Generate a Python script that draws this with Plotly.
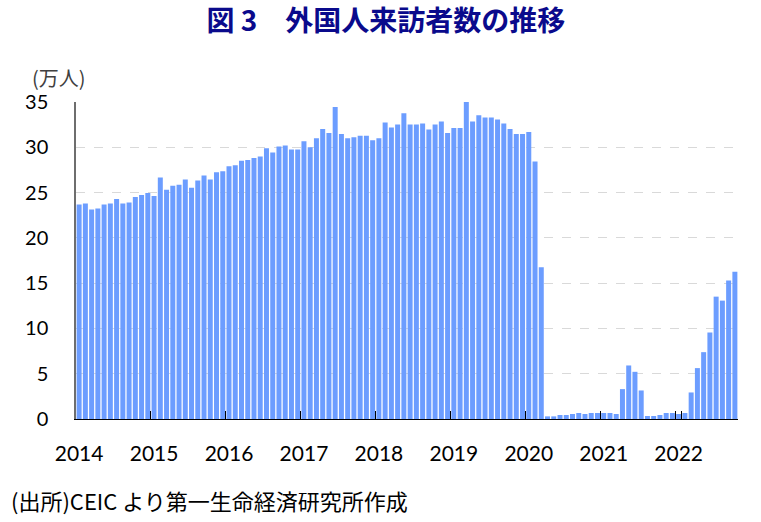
import plotly.graph_objects as go

# ---- data ----
years = list(range(2014, 2023))
months = [f"{y}-{m:02d}" for y in years for m in range(1, 13)][:106]  # 2014-01 .. 2022-10

v2014 = [23.69, 23.8, 23.14, 23.25, 23.69, 23.8, 24.28, 23.8, 23.91, 24.5, 24.72, 24.94]
v2015 = [24.61, 26.67, 25.3, 25.75, 25.86, 26.45, 25.52, 26.34, 26.89, 26.45, 27.25, 27.36]
v2016 = [27.91, 28.03, 28.5, 28.61, 28.83, 28.98, 29.9, 29.42, 30.08, 30.2, 29.75, 29.75]
v2017 = [30.67, 30.0, 31.0, 32.03, 31.59, 34.45, 31.48, 31.0, 31.11, 31.26, 31.26, 30.78]
v2018 = [31.0, 32.73, 32.18, 32.51, 33.76, 32.51, 32.51, 32.62, 31.96, 32.51, 32.84, 31.59]
v2019 = [32.14, 32.14, 35.0, 32.84, 33.53, 33.28, 33.28, 33.06, 32.62, 32.03, 31.48, 31.48]
v2020 = [31.7, 28.43, 16.75, 0.29, 0.29, 0.44, 0.44, 0.55, 0.66, 0.55, 0.66, 0.66]
v2021 = [0.66, 0.66, 0.55, 3.3, 5.91, 5.21, 3.15, 0.33, 0.33, 0.44, 0.66, 0.66]
v2022 = [0.55, 0.66, 2.93, 5.62, 7.38, 9.55, 13.51, 13.07, 15.28, 16.27]
visitors = v2014 + v2015 + v2016 + v2017 + v2018 + v2019 + v2020 + v2021 + v2022

year_ticks = [f"{y}-01" for y in years]
year_labels = [str(y) for y in years]
y_ticks = [0, 5, 10, 15, 20, 25, 30, 35]

title_text = "図 3　外国人来訪者数の推移"
unit_text = "(万人)"
source_text = "(出所)CEIC より第一生命経済研究所作成"

# ---- figure ----
fig = go.Figure(go.Bar(
    x=months, y=visitors,
    marker=dict(color="#6C9DFF", line=dict(width=0)),
))

fig.update_layout(
    width=761, height=522,
    margin=dict(l=76, r=23, t=102, b=103),
    paper_bgcolor="white", plot_bgcolor="white",
    bargap=0.2,
    showlegend=False,
    font=dict(family="Lato, 'Noto Sans CJK JP', sans-serif", color="black", size=20),
    title=dict(
        text=f"<b>{title_text}</b>",
        font=dict(family="'Noto Sans CJK JP'", size=28, color="#0A0A8C"),
        xref="container", x=0.507, xanchor="center",
        yref="container", y=1 - 21 / 522, yanchor="middle",
    ),
)

fig.update_xaxes(
    type="category",
    tickmode="array", tickvals=year_ticks, ticktext=year_labels,
    tickson="boundaries",
    tickangle=0,
    ticks="inside", ticklen=8, tickwidth=1, tickcolor="black",
    showline=True, linecolor="black", linewidth=1,
    showgrid=False,
    tickfont=dict(family="Lato", size=21, color="black"),
    ticklabelstandoff=16,
)
fig.update_yaxes(
    range=[0, 35],
    tickmode="array", tickvals=y_ticks,
    showline=True, linecolor="#6E6E6E", linewidth=1.5,
    showgrid=True, gridcolor="#D9D9D9", griddash="dash", gridwidth=1,
    zeroline=False,
    ticks="",
    tickfont=dict(family="Lato", size=20, color="black"),
    ticklabelstandoff=22,
)

fig.add_annotation(
    text=unit_text, xref="paper", yref="paper",
    x=(30 - 76) / 662, y=(419.3 - 77) / 317.3,
    xanchor="left", yanchor="middle", showarrow=False,
    font=dict(family="'Noto Sans CJK JP'", size=20, color="#404040"),
)
fig.add_annotation(
    text=source_text, xref="paper", yref="paper",
    x=(9 - 76) / 662, y=(419.3 - 500) / 317.3,
    xanchor="left", yanchor="middle", showarrow=False,
    font=dict(family="'Noto Sans CJK JP'", size=22, color="black"),
)

fig.write_html("out.html")
